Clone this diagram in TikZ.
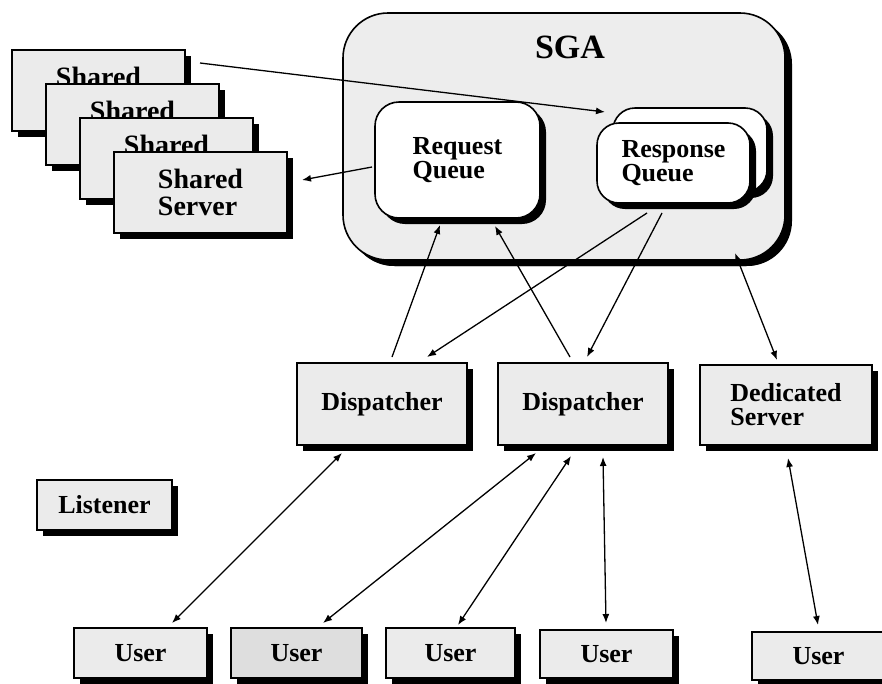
\documentclass[tikz,border=0pt]{standalone}
\usepackage{fontspec}
\setmainfont{Liberation Serif}
\usetikzlibrary{shadows,arrows.meta}
\definecolor{boxfill}{HTML}{EBEBEB}
\definecolor{sgafill}{HTML}{EDEDED}
\definecolor{darkfill}{HTML}{DEDEDE}
\begin{document}
\begin{tikzpicture}[x=1pt,y=-1pt,
  shade/.style={drop shadow={shadow xshift=6pt,shadow yshift=-6pt,fill=black,opacity=1}},
  blk/.style={draw=black,line width=1.6pt,fill=boxfill,inner sep=0pt,outer sep=0pt,
    align=left,font=\bfseries\fontsize{26}{24}\selectfont,shade},
  queue/.style={blk,fill=white,rounded corners=24pt},
  shrd/.style={blk,minimum width=173pt,minimum height=81pt,font=\bfseries\fontsize{28}{27}\selectfont},
  usr/.style={blk,minimum width=133pt,minimum height=50pt},
  tip/.style={line width=1.3pt,-{Latex[length=9pt,width=7pt]}},
  both/.style={line width=1.3pt,{Latex[length=9pt,width=7pt]}-{Latex[length=9pt,width=7pt]}}
]
\useasboundingbox (0,0) rectangle (882,683);

% shared memory area
\node[blk,fill=sgafill,rounded corners=45pt,minimum width=442pt,minimum height=247pt,
  drop shadow={shadow xshift=7pt,shadow yshift=-6pt,fill=black,opacity=1}] (sga) at (564,136.5) {};
\node[font=\bfseries\fontsize{34}{34}\selectfont,anchor=base,inner sep=0pt] (sgatitle) at (570,58) {SGA};

% stacked shared servers (only the top word of the rear ones shows)
\node[shrd] (sh1) at (98.5,90.5)   {Shared\\\phantom{Server}};
\node[shrd] (sh2) at (132.5,124.5) {Shared\\\phantom{Server}};
\node[shrd] (sh3) at (166.5,158.5) {Shared\\\phantom{Server}};
\node[shrd] (sh4) at (200.5,192.5) {Shared\\Server};

% queues
\node[queue,minimum width=165pt,minimum height=116pt] (reqQ) at (457.5,160) {Request\\Queue};
\node[queue,rounded corners=22pt,minimum width=154pt,minimum height=84pt] (respB) at (690,150) {};
\node[queue,rounded corners=22pt,minimum width=153pt,minimum height=80pt] (respF) at (673.5,163) {Response\\Queue};

% processes
\node[blk,minimum width=170pt,minimum height=82pt] (d1) at (382,404) {Dispatcher};
\node[blk,minimum width=170pt,minimum height=82pt] (d2) at (583,404) {Dispatcher};
\node[blk,minimum width=172pt,minimum height=80pt] (ded) at (786,405) {Dedicated\\Server};
\node[blk,minimum width=135pt,minimum height=50pt] (lis) at (104.5,505) {Listener};

% users
\node[usr] (u1) at (140.5,653) {User};
\node[usr,fill=darkfill,minimum width=131pt] (u2) at (296.5,653) {User};
\node[usr,minimum width=129pt] (u3) at (450.5,653) {User};
\node[usr,minimum height=48pt] (u4) at (606.5,654) {User};
\node[usr,minimum height=48pt] (u5) at (818.5,656) {User};

% connectors
\draw[tip] ([shift={(15,13)}]sh1.north east) -- ([shift={(-8,4)}]respB.north west);
\draw[tip] ([shift={(-3,7)}]reqQ.west) -- ([shift={(15,-12.5)}]sh4.east);
\draw[tip] ([shift={(10,-6)}]d1.north) -- ([shift={(-17.5,7)}]reqQ.south);
\draw[tip] ([shift={(-13,-6)}]d2.north) -- ([shift={(37.5,8)}]reqQ.south);
\draw[tip] ([shift={(-26.5,10)}]respF.south) -- ([shift={(45,-6)}]d1.north);
\draw[tip] ([shift={(-11.5,10)}]respF.south) -- ([shift={(4,-6)}]d2.north);
\draw[both] ([shift={(-50,-7)}]sga.south east) -- ([shift={(-9,-5)}]ded.north);
\draw[both] ([shift={(-40,8)}]d1.south) -- ([shift={(31.5,-5)}]u1.north);
\draw[both] ([shift={(-47,8)}]d2.south) -- ([shift={(26.5,-5)}]u2.north);
\draw[both] ([shift={(-12,11)}]d2.south) -- ([shift={(7.5,-3)}]u3.north);
\draw[both] ([shift={(20,12)}]d2.south) -- ([shift={(-0.5,-7)}]u4.north);
\draw[both] ([shift={(2,13)}]ded.south) -- ([shift={(-0.5,-7)}]u5.north);
\end{tikzpicture}
\end{document}
